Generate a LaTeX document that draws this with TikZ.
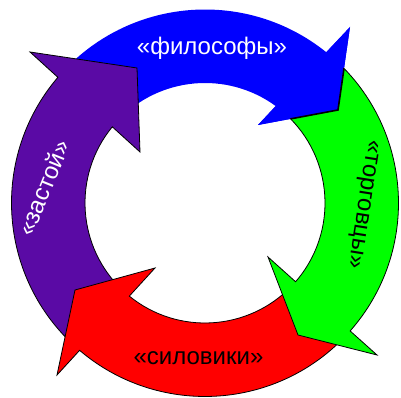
\documentclass[tikz,border=0pt]{standalone}
\usepackage{fontspec}
\setmainfont{Liberation Sans}
\definecolor{arrblue}{RGB}{0,0,255}
\definecolor{arrgreen}{RGB}{0,255,0}
\definecolor{arrred}{RGB}{255,0,0}
\definecolor{arrpurple}{RGB}{90,10,165}
\begin{document}
\begin{tikzpicture}[x=1pt,y=1pt,
  outl/.style={draw=black,line width=0.8pt,line join=miter},
  lbl/.style={font=\fontsize{24}{28}\selectfont,inner sep=0pt},
  bluepath/.style={insert path={([shift={(137:193.5)}]C) arc[start angle=137,end angle=51.2,radius=193.5] -- (bo) -- (bt) -- (bi) -- ([shift={(53.9:120)}]C) arc[start angle=53.9,end angle=137,radius=120] -- cycle}},
  greenpath/.style={insert path={([shift={(48:193.5)}]C) arc[start angle=48,end angle=-41.4,radius=193.5] -- (go) -- (gt) -- (gi) -- ([shift={(-41:120)}]C) arc[start angle=-41,end angle=48,radius=120] -- cycle}},
  redpath/.style={insert path={([shift={(-44:193.5)}]C) arc[start angle=-44,end angle=-130.4,radius=193.5] -- (ro) -- (rt) -- (ri) -- ([shift={(-129.1:120)}]C) arc[start angle=-129.1,end angle=-44,radius=120] -- cycle}},
  purplepath/.style={insert path={([shift={(227:193.5)}]C) arc[start angle=227,end angle=139.5,radius=193.5] -- (po) -- (pt) -- (pi) -- ([shift={(140.6:120)}]C) arc[start angle=140.6,end angle=227,radius=120] -- cycle}}]
\useasboundingbox (0,0) rectangle (401,398);
\coordinate (C) at (205,195);
% arrowhead points: outer barb, tip, inner barb
\coordinate (bo) at (350,371); \coordinate (bt) at (338,288); \coordinate (bi) at (258,273);
\coordinate (go) at (377,43);  \coordinate (gt) at (298,63);  \coordinate (gi) at (268,141);
\coordinate (ro) at (57,23);   \coordinate (rt) at (75,108);  \coordinate (ri) at (155,130);
\coordinate (po) at (30,346);  \coordinate (pt) at (137,330); \coordinate (pi) at (140,246);
% arrows
\path[fill=arrblue,bluepath];
\path[fill=arrpurple,outl,purplepath];
\path[fill=arrred,outl,redpath];
\path[fill=arrgreen,outl,greenpath];
% blue head lies over the green tail
\fill[arrblue] (bo) -- (bt) -- (bi) -- cycle;
\begin{scope}
  \clip[greenpath];
  \draw[line width=1.6pt,line join=miter] (bo) -- (bt) -- (bi);
\end{scope}
% labels
\node[lbl,text=white,anchor=base] (t1) at (212,343) {«философы»};
\node[lbl,anchor=mid,rotate=-99] (t2) at (361,194) {«торговцы»};
\node[lbl,anchor=base] (t3) at (198.5,33) {«силовики»};
\node[lbl,text=white,anchor=mid,rotate=68] (t4) at (49,208) {«застой»};
\end{tikzpicture}
\end{document}
